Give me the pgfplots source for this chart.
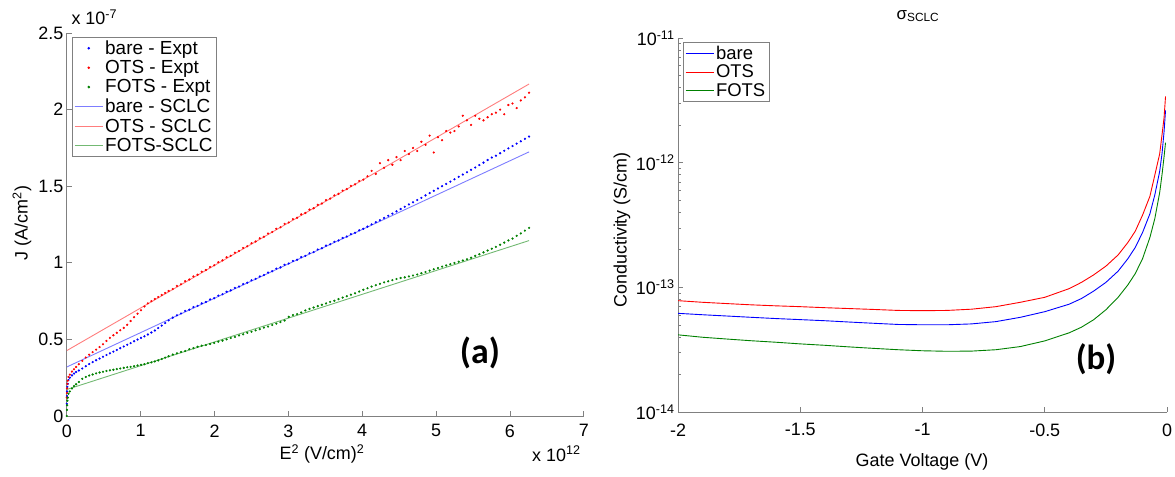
\documentclass[border=0pt]{standalone}
\usepackage{pgfplots}
\pgfplotsset{compat=1.18}
\usepackage{pgfplotstable}
\usepackage{fontspec}
\setmainfont{Liberation Sans}
\newfontfamily\carlito{Carlito}

\definecolor{mblue}{RGB}{0,0,255}
\definecolor{mred}{RGB}{255,0,0}
\definecolor{mgreen}{RGB}{0,128,0}
\definecolor{lblue}{RGB}{125,125,255}
\definecolor{lred}{RGB}{255,125,125}
\definecolor{lgreen}{RGB}{115,185,115}
\definecolor{axgray}{RGB}{128,128,128}

% J vs E^2 : x in 1e12 (V/cm)^2, J in 1e-7 A/cm^2
\pgfplotstableread{
x b r g
0 0.08 0.12 0.00
0.002 0.13 0.15 0.04
0.004 0.16 0.18 0.07
0.008 0.19 0.21 0.10
0.013 0.21 0.23 0.12
0.023 0.235 0.255 0.145
0.041 0.25 0.27 0.16
0.070 0.265 0.29 0.18
0.098 0.277 0.305 0.195
0.126 0.287 0.32 0.207
0.163 0.297 0.338 0.222
0.210 0.31 0.36 0.243
0.257 0.325 0.382 0.255
0.303 0.339 0.40 0.264
0.350 0.352 0.417 0.271
0.397 0.364 0.433 0.278
0.444 0.375 0.45 0.284
0.490 0.387 0.468 0.289
0.537 0.398 0.49 0.294
0.584 0.409 0.51 0.298
0.631 0.42 0.527 0.302
0.677 0.431 0.543 0.306
0.724 0.443 0.56 0.31
0.771 0.454 0.575 0.314
0.818 0.465 0.595 0.318
0.864 0.476 0.62 0.321
0.911 0.488 0.645 0.325
0.958 0.499 0.668 0.33
1.005 0.51 0.69 0.334
1.051 0.52 0.715 0.338
1.098 0.532 0.735 0.345
1.145 0.545 0.75 0.35
1.192 0.558 0.764 0.356
1.238 0.574 0.777 0.363
1.285 0.59 0.79 0.372
1.332 0.607 0.803 0.381
1.379 0.624 0.816 0.39
1.435 0.642 0.829 0.401
1.491 0.657 0.849 0.409
1.547 0.669 0.860 0.418
1.603 0.686 0.880 0.424
1.659 0.694 0.891 0.436
1.715 0.711 0.911 0.443
1.771 0.719 0.922 0.452
1.827 0.735 0.942 0.459
1.883 0.744 0.953 0.463
1.940 0.761 0.973 0.470
1.996 0.769 0.984 0.477
2.052 0.786 1.004 0.485
2.108 0.795 1.016 0.492
2.164 0.811 1.036 0.500
2.220 0.820 1.046 0.509
2.276 0.836 1.066 0.516
2.332 0.845 1.077 0.526
2.388 0.861 1.097 0.533
2.444 0.870 1.108 0.543
2.501 0.886 1.128 0.550
2.557 0.895 1.139 0.559
2.613 0.911 1.160 0.567
2.669 0.920 1.170 0.577
2.725 0.936 1.191 0.584
2.781 0.945 1.201 0.594
2.837 0.962 1.222 0.603
2.893 0.970 1.232 0.613
2.949 0.987 1.254 0.623
3.005 0.995 1.263 0.647
3.062 1.012 1.285 0.659
3.118 1.020 1.294 0.665
3.174 1.037 1.316 0.676
3.230 1.045 1.325 0.689
3.286 1.062 1.347 0.699
3.342 1.070 1.356 0.708
3.398 1.087 1.378 0.717
3.454 1.095 1.387 0.726
3.510 1.112 1.409 0.735
3.566 1.121 1.419 0.745
3.623 1.137 1.440 0.752
3.679 1.146 1.450 0.763
3.735 1.162 1.471 0.773
3.791 1.171 1.481 0.782
3.847 1.187 1.502 0.792
3.903 1.196 1.512 0.801
3.959 1.212 1.534 0.812
4.015 1.222 1.543 0.824
4.071 1.236 1.565 0.834
4.127 1.251 1.60 0.845
4.184 1.265 1.58 0.854
4.240 1.278 1.65 0.863
4.296 1.293 1.62 0.872
4.352 1.307 1.67 0.879
4.408 1.321 1.64 0.887
4.464 1.336 1.69 0.894
4.520 1.351 1.67 0.901
4.576 1.366 1.73 0.905
4.632 1.381 1.71 0.911
4.688 1.395 1.75 0.917
4.745 1.410 1.73 0.924
4.801 1.424 1.79 0.932
4.857 1.440 1.77 0.940
4.913 1.455 1.83 0.949
4.969 1.470 1.72 0.958
5.025 1.485 1.82 0.966
5.081 1.500 1.80 0.975
5.137 1.515 1.86 0.983
5.193 1.530 1.85 0.991
5.249 1.545 1.86 0.999
5.306 1.561 1.89 1.007
5.362 1.576 1.96 1.015
5.418 1.591 1.93 1.023
5.474 1.607 1.90 1.033
5.530 1.622 1.96 1.045
5.586 1.638 1.94 1.056
5.642 1.654 1.93 1.068
5.698 1.671 1.95 1.080
5.754 1.687 1.97 1.092
5.810 1.699 1.98 1.104
5.867 1.715 2.00 1.118
5.923 1.731 1.97 1.132
5.979 1.747 2.03 1.146
6.035 1.762 2.04 1.158
6.091 1.778 2.01 1.176
6.147 1.793 2.06 1.192
6.203 1.809 2.08 1.210
6.259 1.824 2.11 1.228
}\expt

% conductivity vs gate voltage
\pgfplotstableread{
v b r g
-2.0 6.19e-14 7.82e-14 4.16e-14
-1.9 6.03e-14 7.59e-14 3.98e-14
-1.8 5.89e-14 7.41e-14 3.85e-14
-1.7 5.75e-14 7.24e-14 3.73e-14
-1.6 5.62e-14 7.11e-14 3.63e-14
-1.5 5.51e-14 7.00e-14 3.52e-14
-1.4 5.40e-14 6.87e-14 3.43e-14
-1.3 5.27e-14 6.76e-14 3.33e-14
-1.2 5.15e-14 6.65e-14 3.24e-14
-1.1 5.04e-14 6.53e-14 3.16e-14
-1.0 5.01e-14 6.50e-14 3.10e-14
-0.9 5.01e-14 6.53e-14 3.07e-14
-0.8 5.09e-14 6.68e-14 3.08e-14
-0.7 5.31e-14 7.00e-14 3.16e-14
-0.6 5.75e-14 7.59e-14 3.35e-14
-0.5 6.38e-14 8.32e-14 3.72e-14
-0.4 7.33e-14 9.77e-14 4.32e-14
-0.35 8.13e-14 1.096e-13 4.79e-14
-0.3 9.33e-14 1.259e-13 5.50e-14
-0.25 1.096e-13 1.479e-13 6.61e-14
-0.2 1.349e-13 1.820e-13 8.32e-14
-0.16 1.698e-13 2.291e-13 1.047e-13
-0.13 2.089e-13 2.818e-13 1.288e-13
-0.1 2.754e-13 3.80e-13 1.698e-13
-0.07 3.89e-13 5.37e-13 2.512e-13
-0.05 5.50e-13 7.94e-13 3.55e-13
-0.03 8.51e-13 1.175e-12 5.75e-13
-0.02 1.20e-12 1.70e-12 8.13e-13
-0.012 1.78e-12 2.30e-12 1.12e-12
-0.006 2.63e-12 3.40e-12 1.45e-12
}\cond

\pgfplotsset{
  dotleg/.style={legend image code/.code={\draw[mark repeat=2,mark phase=2,##1] plot coordinates {(0bp,0bp) (14bp,0bp) (28bp,0bp)};}},
  lineleg/.style={legend image code/.code={\draw[##1] (0bp,0bp) -- (28bp,0bp);}},
  mystyle/.style={
    scale only axis,
    axis lines*=left,
    axis line style={axgray, line width=0.7bp},
    tick style={axgray, line width=0.7bp},
    major tick length=5bp, minor tick length=3bp,
    tick align=inside,
    /pgf/number format/assume math mode=true,
    ticklabel style={font=\fontsize{18}{21}\selectfont, text=black},
    legend cell align=left,
  }
}

\begin{document}
\begin{tikzpicture}[font=\fontsize{18}{21}\selectfont]
\useasboundingbox (0,0) rectangle (1175bp,477bp);

\begin{axis}[mystyle,
  at={(66.8bp,61bp)}, anchor=south west,
  width=517bp, height=383bp,
  xmin=0, xmax=7, ymin=0, ymax=2.5,
  xtick={0,1,2,3,4,5,6,7},
  ytick={0,0.5,1,1.5,2,2.5},
  xticklabels={0,1,2,3,4,5,6,7},
  yticklabels={0,0.5,1,1.5,2,2.5},
  xticklabel style={yshift=-5bp},
  legend style={at={(axis description cs:0.01,0.99)}, anchor=north west,
    draw=axgray, line width=0.7bp, font=\fontsize{19}{22}\selectfont,
    row sep=0.6bp, inner xsep=2bp, inner ysep=1.5bp},
]
\addplot[only marks, mark=*, mark size=0.9bp, mblue, dotleg] table[x=x,y=b]{\expt};
\addlegendentry{bare - Expt}
\addplot[only marks, mark=*, mark size=0.9bp, mred, dotleg] table[x=x,y=r]{\expt};
\addlegendentry{OTS - Expt}
\addplot[only marks, mark=*, mark size=0.9bp, mgreen, dotleg] table[x=x,y=g]{\expt};
\addlegendentry{FOTS - Expt}
\addplot[lblue, line width=0.9bp, lineleg] coordinates {(0,0.32) (6.259,1.724)};
\addlegendentry{bare - SCLC}
\addplot[lred, line width=0.9bp, lineleg] coordinates {(0,0.427) (6.259,2.167)};
\addlegendentry{OTS - SCLC}
\addplot[lgreen, line width=0.9bp, lineleg] coordinates {(0,0.173) (6.259,1.145)};
\addlegendentry{FOTS-SCLC}
\end{axis}

\begin{axis}[mystyle,
  at={(678bp,65bp)}, anchor=south west,
  width=489bp, height=374bp,
  xmin=-2, xmax=0, ymode=log, ymin=1e-14, ymax=1e-11,
  xtick={-2,-1.5,-1,-0.5,0},
  xticklabels={-2,-1.5,-1,-0.5,0},
  ytick={1e-14,1e-13,1e-12,1e-11},
  yticklabels={10\textsuperscript{-14},10\textsuperscript{-13},10\textsuperscript{-12},10\textsuperscript{-11}},
  minor ytick={2e-14,3e-14,4e-14,5e-14,6e-14,7e-14,8e-14,9e-14,2e-13,3e-13,4e-13,5e-13,6e-13,7e-13,8e-13,9e-13,2e-12,3e-12,4e-12,5e-12,6e-12,7e-12,8e-12,9e-12},
  xticklabel style={yshift=-8bp},
  legend style={at={(axis description cs:0.01,0.989)}, anchor=north west,
    draw=axgray, line width=0.7bp, font=\fontsize{18.5}{21.5}\selectfont,
    row sep=0bp, inner xsep=2bp, inner ysep=1.5bp},
]
\addplot[mblue, line width=0.9bp, lineleg] table[x=v,y=b]{\cond};
\addlegendentry{bare}
\addplot[mred, line width=0.9bp, lineleg] table[x=v,y=r]{\cond};
\addlegendentry{OTS}
\addplot[mgreen, line width=0.9bp, lineleg] table[x=v,y=g]{\cond};
\addlegendentry{FOTS}
\end{axis}

% labels
\node[rotate=90] at (22bp,254bp) {J (A/cm\textsuperscript{2})};
\node at (322bp,23bp) {E\textsuperscript{2} (V/cm)\textsuperscript{2}};
\node[anchor=base west] at (68bp,452bp) {x 10\textsuperscript{-7}};
\node[anchor=base east] at (584bp,16bp) {x 10\textsuperscript{12}};
\node[rotate=90] at (622bp,247bp) {Conductivity (S/cm)};
\node at (922bp,15bp) {Gate Voltage (V)};
\node[font=\fontsize{17}{20}\selectfont] at (918bp,461bp) {σ\textsubscript{SCLC}};
\node[font=\carlito\bfseries\fontsize{36}{40}\selectfont] at (480bp,124bp) {(a)};
\node[font=\carlito\bfseries\fontsize{35}{39}\selectfont] at (1096bp,118bp) {(b)};
\end{tikzpicture}
\end{document}
